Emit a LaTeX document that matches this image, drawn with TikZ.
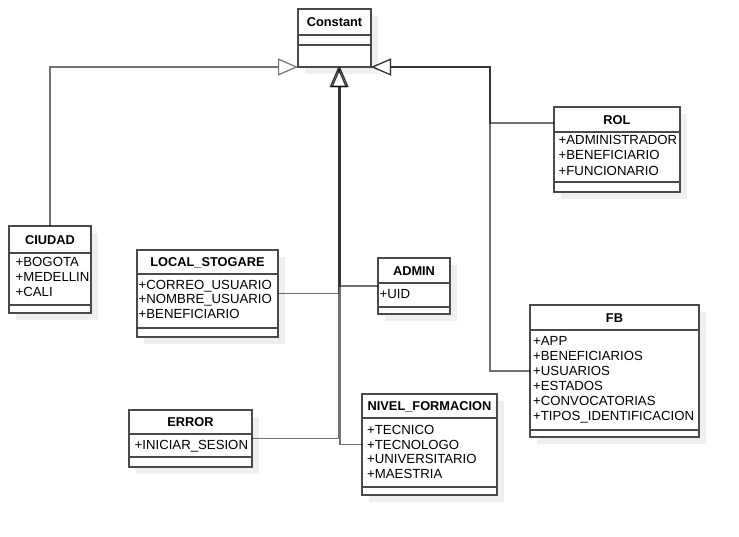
\documentclass[tikz,border=0pt]{standalone}
\usepackage{fontspec}
\setmainfont{Liberation Sans}
\usetikzlibrary{arrows.meta,calc}

\definecolor{boxline}{HTML}{4A4A4A}
\definecolor{shadowgray}{HTML}{EFEFEF}

\tikzset{
  classbox/.style={draw=boxline, line width=1.2pt, fill=white, inner sep=0pt,
    outer sep=0pt, anchor=north west},
  rule/.style={draw=boxline, line width=1.2pt},
  classshadow/.style={fill=shadowgray, draw=none},
  classtitle/.style={font=\fontsize{12.8}{15}\selectfont\bfseries, inner sep=0pt, anchor=base},
  classattr/.style={font=\fontsize{13.2}{15}\selectfont, inner sep=0pt, anchor=base west},
  gen/.style={draw=black, draw opacity=0.55, line width=1.3pt,
    -{Triangle[open, length=20pt, width=17pt, line width=1.2pt]}},
}

% #1 name, #2 left, #3 top, #4 right, #5 bottom, #6 title rule, #7 attribute rule, #8 title
\newcommand\umlbox[8]{%
  \path[classshadow] (#2+7,#3+7) rectangle (#4+7,#5+7);
  \node[classbox, minimum width={(#4-#2)*1pt}, minimum height={(#5-#3)*1pt}] (#1) at (#2,#3) {};
  \draw[rule] (#2,#6) -- (#4,#6) (#2,#7) -- (#4,#7);
  \node[classtitle] (#1-title) at ({(#2+#4)/2},{(#3+#6)/2+4.6}) {#8};
}
% #1 name, #2 text left, #3 first baseline, #4 line pitch, #5 attributes
\newcommand\umlattrs[5]{%
  \foreach \t [count=\i] in {#5} {\node[classattr] (#1-a\i) at (#2,{#3+#4*(\i-1)}) {\t};}
}

\begin{document}
\begin{tikzpicture}[x=1pt,y=-1pt]
\useasboundingbox (0,0) rectangle (739,536);

\umlbox{constant}{298}{9}{371}{67}{35}{45}{Constant}

\umlbox{rol}{554}{107}{680}{192}{132}{182}{ROL}
\umlattrs{rol}{558.5}{144.5}{15.3}{+ADMINISTRADOR,+BENEFICIARIO,+FUNCIONARIO}

\umlbox{ciudad}{9}{226}{91}{313}{253}{305}{CIUDAD}
\umlattrs{ciudad}{15.5}{266.4}{15}{+BOGOTA,+MEDELLIN,+CALI}

\umlbox{local}{137}{250}{278}{337}{274}{328}{LOCAL\_STOGARE}
\umlattrs{local}{138.5}{289}{14.6}{+CORREO\_USUARIO,+NOMBRE\_USUARIO,+BENEFICIARIO}

\umlbox{admin}{378}{258}{450}{314}{283}{307}{ADMIN}
\umlattrs{admin}{379.5}{298}{15}{+UID}

\umlbox{error}{129}{410}{252}{467}{434}{457}{ERROR}
\umlattrs{error}{134.5}{449.7}{15}{+INICIAR\_SESION}

\umlbox{nivel}{362}{394}{497}{495}{418}{487}{NIVEL\_FORMACION}
\umlattrs{nivel}{367}{434.9}{14.5}{+TECNICO,+TECNOLOGO,+UNIVERSITARIO,+MAESTRIA}

\umlbox{fb}{530}{305}{699}{437}{330}{430}{FB}
\umlattrs{fb}{533}{345.4}{15.06}{+APP,+BENEFICIARIOS,+USUARIOS,+ESTADOS,+CONVOCATORIAS,+TIPOS\_IDENTIFICACION}

% junction points of the generalization buses
\coordinate (rolin) at (554,123);
\coordinate (busR) at (490,67);
\coordinate (tipA) at (338.3,67);
\coordinate (tipB) at (340,67);

% generalizations into Constant
\draw[gen] (ciudad.north) |- (constant.south west);
\draw[gen] (rolin) -| (busR) -- (constant.south east);
\draw[gen] (fb.west) -| (busR) -- (constant.south east);
\draw[gen] (local.east) -| (tipA);
\draw[gen] (error.east) -| (tipA);
\draw[gen] (admin.west) -| (tipB);
\draw[gen] (nivel.west) -| (tipB);
\end{tikzpicture}
\end{document}
